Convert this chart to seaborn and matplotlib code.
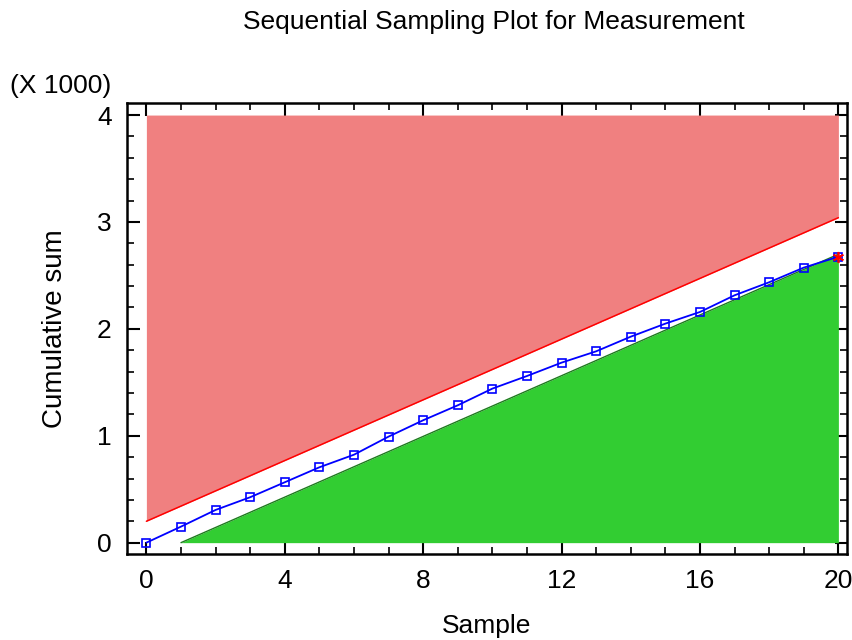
import numpy as np
import pandas as pd
import matplotlib
matplotlib.use("Agg")
import matplotlib.pyplot as plt
import seaborn as sns
from matplotlib.ticker import MultipleLocator

# ── data ─────────────────────────────────────────────────────────────
samples = list(range(21))
cusum = [0, 150, 306, 425, 565, 705, 823, 992, 1145, 1285, 1441,
         1559, 1684, 1790, 1927, 2049, 2158, 2314, 2436, 2573, 2675]

# decision boundaries
upper_x = [0, 20]
upper_y = [200, 3040]
lower_x = [1, 20]
lower_y = [0, 2698]
y_top = 4000

df = pd.DataFrame({"Sample": samples, "Cumulative sum": cusum})

# ── style ────────────────────────────────────────────────────────────
sns.set_theme(style="ticks")
plt.rcParams["font.family"] = ["Liberation Sans", "DejaVu Sans"]
plt.rcParams["text.color"] = "black"
plt.rcParams["axes.labelcolor"] = "black"
plt.rcParams["xtick.color"] = "black"
plt.rcParams["ytick.color"] = "black"

fig = plt.figure(figsize=(8.53, 6.4), dpi=100)
ax = fig.add_axes([0.1489, 0.1344, 0.8437, 0.7042])

# rejection / acceptance regions
ax.fill_between(upper_x, upper_y, [y_top, y_top], color="#F08080", lw=0)
ax.plot(upper_x, upper_y, color="#FF0000", lw=1.1)
ax.fill_between(lower_x, [0, 0], lower_y, color="#32CD32", lw=0)
ax.plot(lower_x, lower_y, color="#1E7B1E", lw=1.0)

sns.lineplot(data=df, x="Sample", y="Cumulative sum", ax=ax,
             color="#0000FF", lw=1.3, marker="s", markersize=5.5,
             markerfacecolor="none", markeredgecolor="#0000FF",
             markeredgewidth=1.2)
ax.plot([samples[-1]], [cusum[-1]], marker=(6, 2, 0), color="#FF0000",
        markersize=8, mew=1.2, ls="none")

ax.set_xlim(-0.56, 20.24)
ax.set_ylim(-106, 4110)
ax.xaxis.set_major_locator(MultipleLocator(4))
ax.xaxis.set_minor_locator(MultipleLocator(1))
ax.yaxis.set_major_locator(MultipleLocator(1000))
ax.yaxis.set_minor_locator(MultipleLocator(200))
ax.set_yticklabels([f"{int(v/1000)}" for v in ax.get_yticks()])

for s in ax.spines.values():
    s.set_visible(True)
    s.set_linewidth(1.8)
    s.set_color("black")
ax.tick_params(which="both", direction="in", top=True, right=True,
               labelsize=19)
ax.tick_params(which="major", length=9, width=1.5, pad=11)
ax.tick_params(which="minor", length=5, width=1.2)

ax.set_xlabel("Sample", fontsize=19, labelpad=15)
ax.set_ylabel("Cumulative sum", fontsize=20, labelpad=21)
fig.text(0.579, 0.966, "Sequential Sampling Plot for Measurement",
         ha="center", va="center", fontsize=19)
fig.text(0.012, 0.866, "(X 1000)", ha="left", va="center", fontsize=19)

fig.savefig("out.png", dpi=100)
